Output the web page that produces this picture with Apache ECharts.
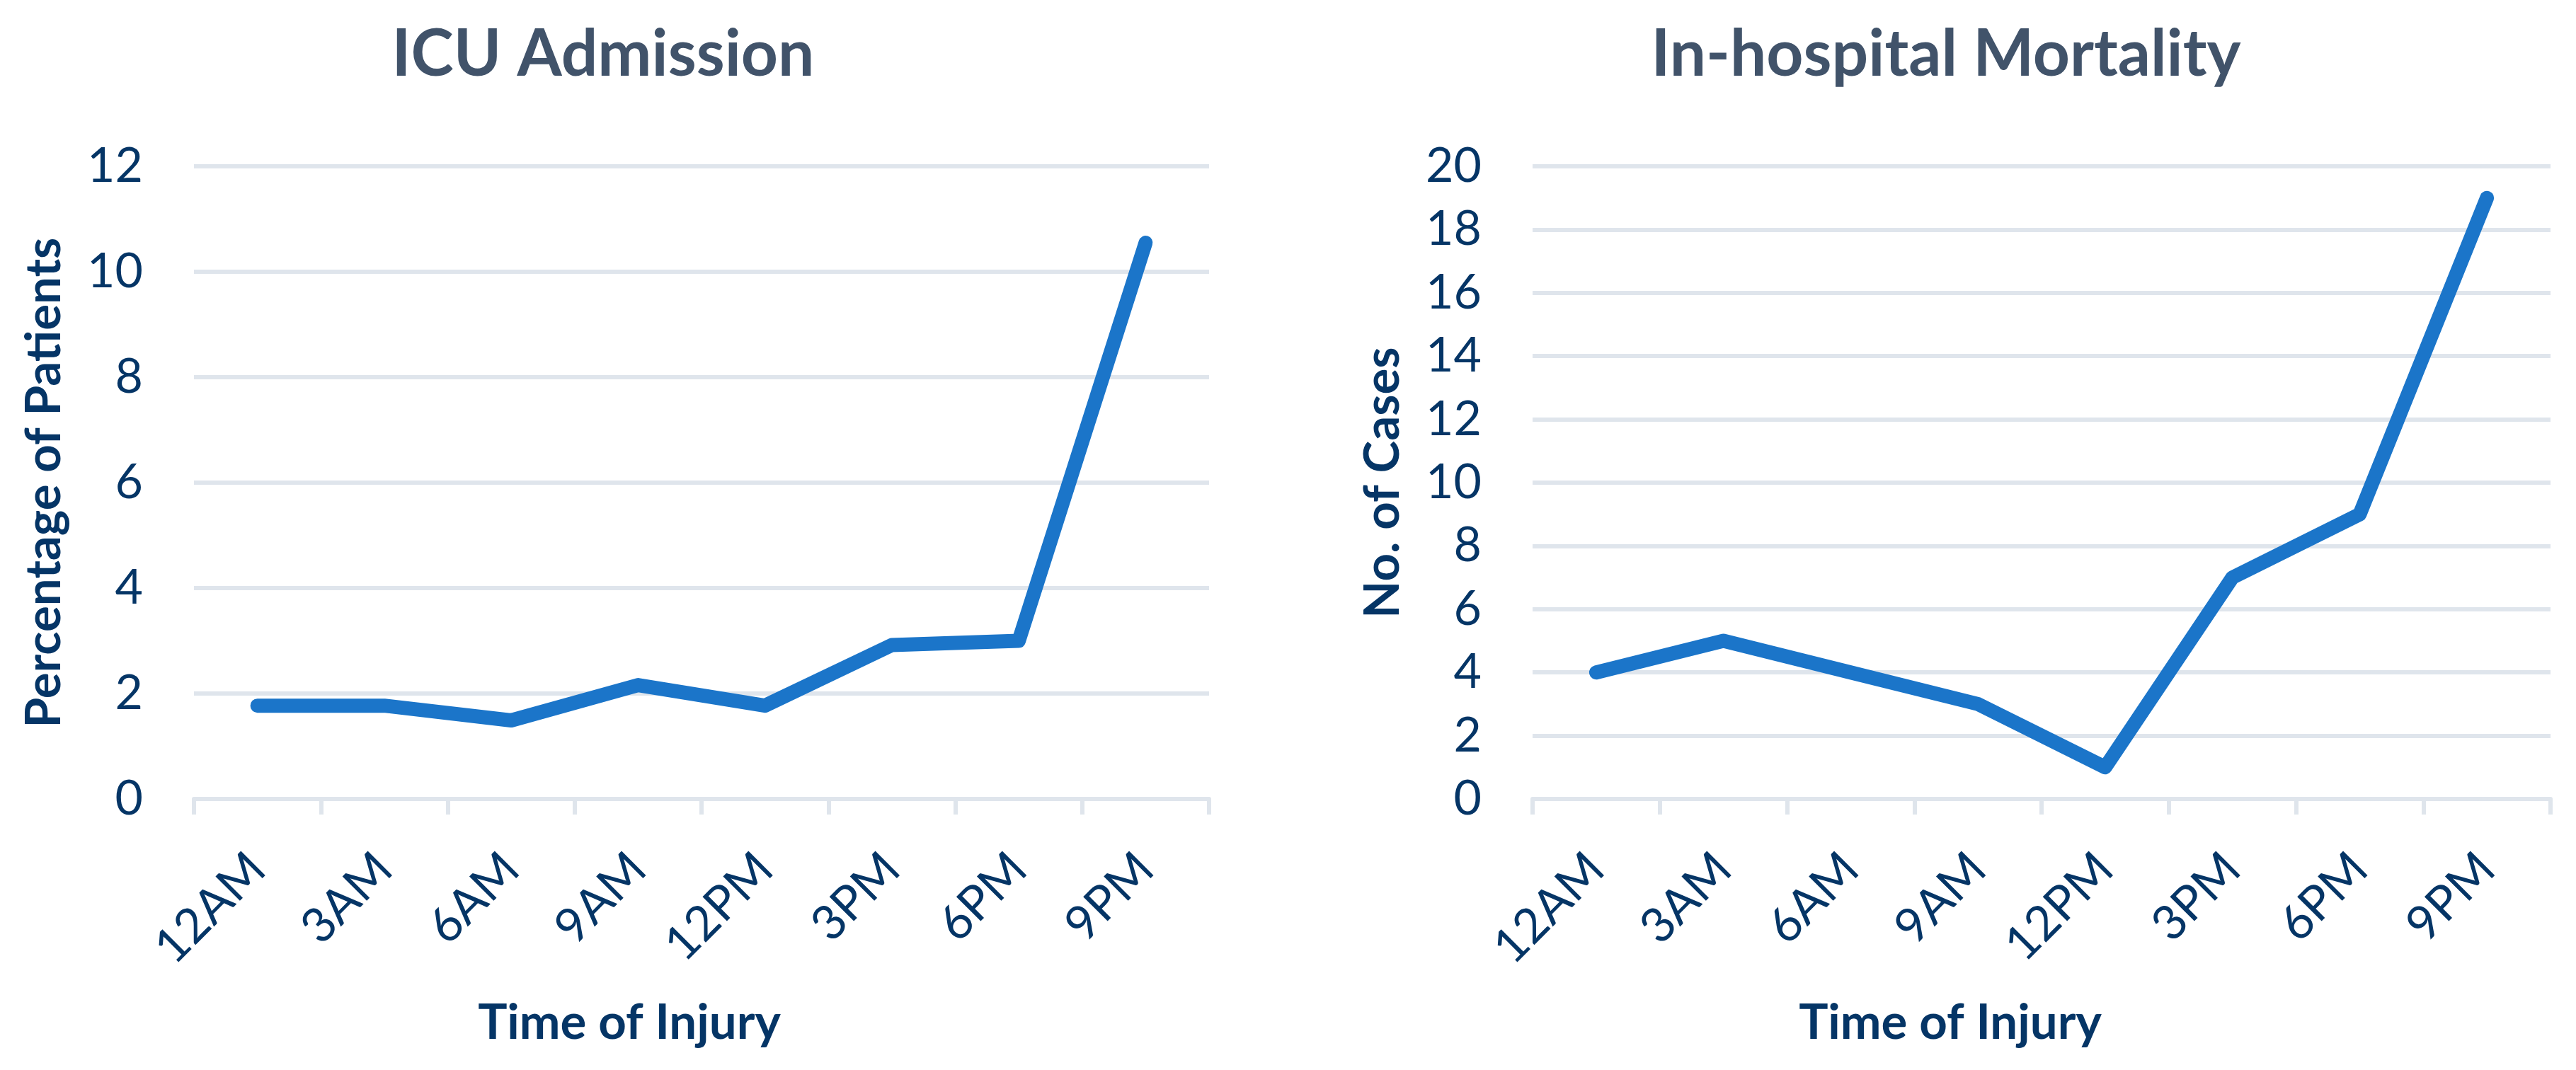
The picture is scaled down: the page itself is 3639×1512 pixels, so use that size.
<!DOCTYPE html>
<html>
<head>
<meta charset="utf-8">
<script src="https://cdn.jsdelivr.net/npm/echarts@6/dist/echarts.min.js"></script>
<style>
  html, body { margin: 0; padding: 0; background: #ffffff; }
  #chart { width: 3639px; height: 1512px; }
</style>
</head>
<body>
<div id="chart"></div>
<script>
// ---- data ----
const categories = ['12AM', '3AM', '6AM', '9AM', '12PM', '3PM', '6PM', '9PM'];
const icuValues = [1.77, 1.77, 1.49, 2.16, 1.77, 2.92, 3.0, 10.55];
const mortalityValues = [4, 5, 4, 3, 1, 7, 9, 19];
const chartTitles = ['ICU Admission', 'In-hospital Mortality'];
const yAxisNames = ['Percentage of Patients', 'No. of Cases'];
const xAxisName = 'Time of Injury';

// ---- styles ----
const NAVY = '#053566';
const TITLE = '#41536a';
const GRID = '#dfe5ec';
const LINE = '#1b75c9';
const FONT = 'Lato, "Open Sans", sans-serif';

const chart = echarts.init(document.getElementById('chart'), null, { renderer: 'canvas' });

function xAxis(gridIndex, shift) {
  return {
    type: 'category',
    gridIndex: gridIndex,
    data: categories,
    boundaryGap: true,
    axisLine: { show: true, lineStyle: { color: GRID, width: 6 } },
    axisTick: { show: true, length: 22, lineStyle: { color: GRID, width: 6 } },
    axisLabel: { interval: 0, rotate: 45, margin: 88, fontSize: 68, color: NAVY, fontFamily: FONT },
    name: xAxisName,
    nameLocation: 'middle',
    nameGap: 282,
    nameTextStyle: { fontSize: 69, fontWeight: 'bold', color: NAVY, fontFamily: FONT, padding: [0, shift, 0, 0] }
  };
}

function yAxis(gridIndex, max, name) {
  return {
    type: 'value',
    gridIndex: gridIndex,
    min: 0,
    max: max,
    interval: 2,
    axisLine: { show: false },
    axisTick: { show: false },
    splitLine: { show: true, lineStyle: { color: GRID, width: 6 } },
    axisLabel: { margin: 72, fontSize: 68, color: NAVY, fontFamily: FONT },
    name: name,
    nameLocation: 'middle',
    nameGap: 177,
    nameTextStyle: { fontSize: 69, fontWeight: 'bold', color: NAVY, fontFamily: FONT }
  };
}

const option = {
  backgroundColor: '#ffffff',
  animation: false,
  title: [
    { text: chartTitles[0], left: 852, top: 32, textAlign: 'center', padding: 0,
      textStyle: { fontSize: 91, fontWeight: 'bold', color: TITLE, fontFamily: FONT } },
    { text: chartTitles[1], left: 2749, top: 32, textAlign: 'center', padding: 0,
      textStyle: { fontSize: 91, fontWeight: 'bold', color: TITLE, fontFamily: FONT } }
  ],
  grid: [
    { left: 274, right: 1931, top: 235, bottom: 383, containLabel: false },
    { left: 2165, right: 36, top: 235, bottom: 383, containLabel: false }
  ],
  xAxis: [xAxis(0, 204), xAxis(1, 258)],
  yAxis: [yAxis(0, 12, yAxisNames[0]), yAxis(1, 20, yAxisNames[1])],
  series: [
    { type: 'line', xAxisIndex: 0, yAxisIndex: 0, data: icuValues, symbol: 'none',
      lineStyle: { color: LINE, width: 20, cap: 'round', join: 'round' } },
    { type: 'line', xAxisIndex: 1, yAxisIndex: 1, data: mortalityValues, symbol: 'none',
      lineStyle: { color: LINE, width: 20, cap: 'round', join: 'round' } }
  ]
};
chart.setOption(option);
</script>
</body>
</html>
